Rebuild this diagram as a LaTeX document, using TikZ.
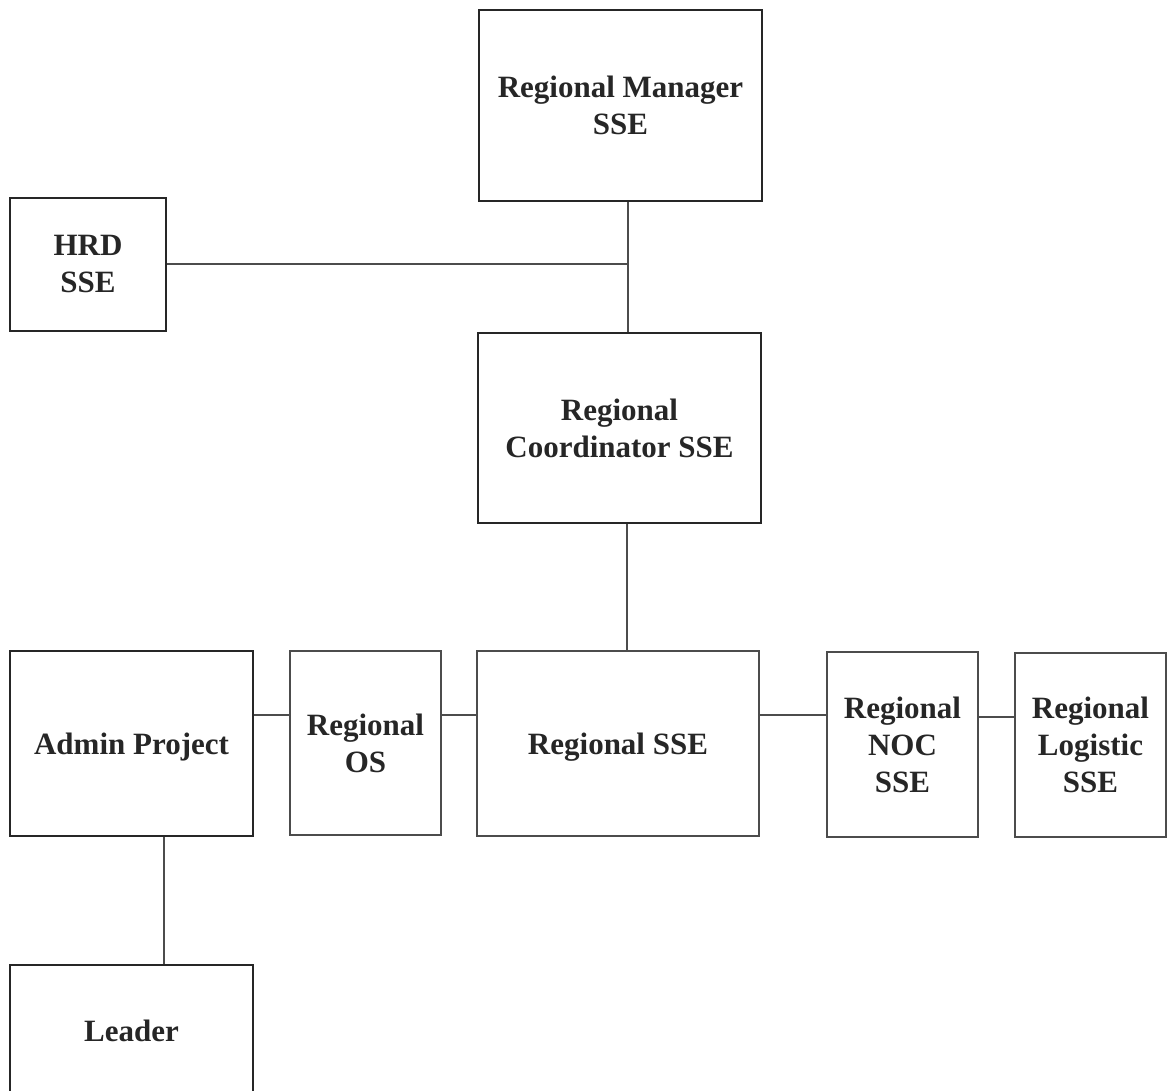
\documentclass[tikz,border=0pt]{standalone}
\usepackage{fontspec}
\setmainfont{Liberation Serif}
\begin{document}
\begin{tikzpicture}[x=1pt,y=-1pt,
  box/.style={draw=black!85,line width=2.4pt,align=center,inner sep=0pt,
    font=\bfseries\fontsize{31}{37}\selectfont,text=black!85},
  tbox/.style={box,line width=1.3pt,draw=black!70},
  conn/.style={draw=black!70,line width=1.2pt}]
\useasboundingbox (0,0) rectangle (1169,1091);
\clip (0,0) rectangle (1169,1091);
\node[box,minimum width=283,minimum height=191] (rm) at (620.5,105.5) {Regional Manager\\SSE};
\node[box,minimum width=156,minimum height=133] (hrd) at (88,264.5) {HRD\\SSE};
\node[box,minimum width=283,minimum height=190] (rc) at (619.5,428) {Regional\\Coordinator SSE};
\node[box,minimum width=243,minimum height=185,text depth=0pt] (ap) at (131.5,743.5) {Admin Project};
\node[tbox,minimum width=151,minimum height=184] (os) at (365.5,743) {Regional\\OS};
\node[tbox,minimum width=282,minimum height=185,text depth=0pt] (rs) at (618,743.5) {Regional SSE};
\node[tbox,minimum width=151,minimum height=185] (noc) at (902.5,744.5) {Regional\\NOC\\SSE};
\node[tbox,minimum width=151,minimum height=184] (lg) at (1090.5,745) {Regional\\Logistic\\SSE};
\node[box,minimum width=243,minimum height=132] (ld) at (131.5,1031) {Leader};
\coordinate (j) at (628,264);
\coordinate (k) at (627,0);
\coordinate (h1) at (0,715);
\coordinate (h2) at (0,717);
\coordinate (v1) at (164,0);
\draw[conn] (rm.south -| j) -- (rc.north -| j);
\draw[conn] (hrd.east |- j) -- (j);
\draw[conn] (rc.south -| k) -- (rs.north -| k);
\draw[conn] (ap.east |- h1) -- (os.west |- h1);
\draw[conn] (os.east |- h1) -- (rs.west |- h1);
\draw[conn] (rs.east |- h1) -- (noc.west |- h1);
\draw[conn] (noc.east |- h2) -- (lg.west |- h2);
\draw[conn] (ap.south -| v1) -- (ld.north -| v1);
\end{tikzpicture}
\end{document}
